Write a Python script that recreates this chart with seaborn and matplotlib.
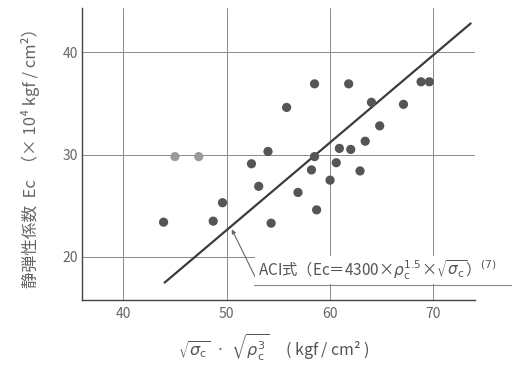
import numpy as np
import pandas as pd
import matplotlib
matplotlib.use("Agg")
import matplotlib.pyplot as plt
import seaborn as sns

# ── Data ───────────────────────────────────────────────────────────────────
x_vals = [43.9, 45.0, 47.3, 48.7, 49.6, 52.4, 53.1, 54.0, 54.3, 55.8,
          56.9, 58.2, 58.5, 58.5, 58.7, 60.0, 60.6, 60.9, 61.8, 62.0,
          62.9, 63.4, 64.0, 64.8, 67.1, 68.8, 69.6]
y_vals = [23.4, 29.8, 29.8, 23.5, 25.3, 29.1, 26.9, 30.3, 23.3, 34.6,
          26.3, 28.5, 29.8, 36.9, 24.6, 27.5, 29.2, 30.6, 36.9, 30.5,
          28.4, 31.3, 35.1, 32.8, 34.9, 37.1, 37.1]
groups = ["dark", "light", "light"] + ["dark"] * 24

# ACI line ends
line_x = [44.0, 73.6]
line_y = [17.5, 42.8]

x_ticks = [40, 50, 60, 70]
y_ticks = [20, 30, 40]

df = pd.DataFrame({"x": x_vals, "y": y_vals, "g": groups})

sns.set_style("white")
plt.rcParams["font.family"] = ["Noto Sans CJK JP", "DejaVu Sans"]
plt.rcParams["mathtext.fontset"] = "dejavusans"

fig = plt.figure(figsize=(5.15, 3.65), dpi=100)
ax = fig.add_axes([0.159, 0.178, 0.763, 0.80])

ax.grid(True, color="#8a8a8a", lw=0.7)
ax.set_axisbelow(True)

sns.lineplot(x=line_x, y=line_y, ax=ax, color="#3c3c3c", lw=1.6, zorder=3)
sns.scatterplot(data=df, x="x", y="y", hue="g",
                palette={"dark": "#555555", "light": "#9a9a9a"},
                s=44, edgecolor="none", legend=False, ax=ax, zorder=4)

ax.set_xlim(36.0, 74.0)
ax.set_ylim(15.8, 44.3)
ax.set_xticks(x_ticks)
ax.set_yticks(y_ticks)
ax.tick_params(axis="both", length=0, labelsize=10, labelcolor="#666666")
ax.tick_params(axis="x", pad=5)
ax.tick_params(axis="y", pad=3)

for side in ["top", "right"]:
    ax.spines[side].set_visible(False)
for side in ["left", "bottom"]:
    ax.spines[side].set_color("#444444")
    ax.spines[side].set_linewidth(1.0)

# axis labels, anchored at their starting ends
ax.set_xlabel(r"$\sqrt{\sigma_{\mathrm{c}}}$  ·  $\sqrt{\rho_{\mathrm{c}}^3}$     ( kgf / cm² )",
              fontsize=11.5, color="#555555", va="center", ha="left")
ax.xaxis.set_label_coords(0.244, -0.165)
ax.set_ylabel("静弾性係数  Ec  （× 10⁴ kgf / cm²）", fontsize=12,
              color="#666666", va="center", ha="left")
ax.yaxis.set_label_coords(-0.132, 0.04)

# callout for the ACI formula
ann = ax.annotate("ACI式（Ec＝4300×$\\rho_{\\mathrm{c}}^{1.5}$×$\\sqrt{\\sigma_{\\mathrm{c}}}$）$^{(7)}$",
                  xy=(50.5, 22.7), xytext=(53.0, 17.55),
                  fontsize=11, color="#555555", ha="left", va="bottom",
                  annotation_clip=False,
                  bbox=dict(boxstyle="square,pad=0.15", fc="white", ec="none"),
                  arrowprops=dict(arrowstyle="-|>", color="#666666", lw=0.8,
                                  mutation_scale=6, shrinkA=0, shrinkB=0,
                                  relpos=(0, 0)))
ax.plot([52.6, 77.5], [17.25, 17.25], color="#888888", lw=0.8, clip_on=False)

fig.savefig("out.png", dpi=100)
